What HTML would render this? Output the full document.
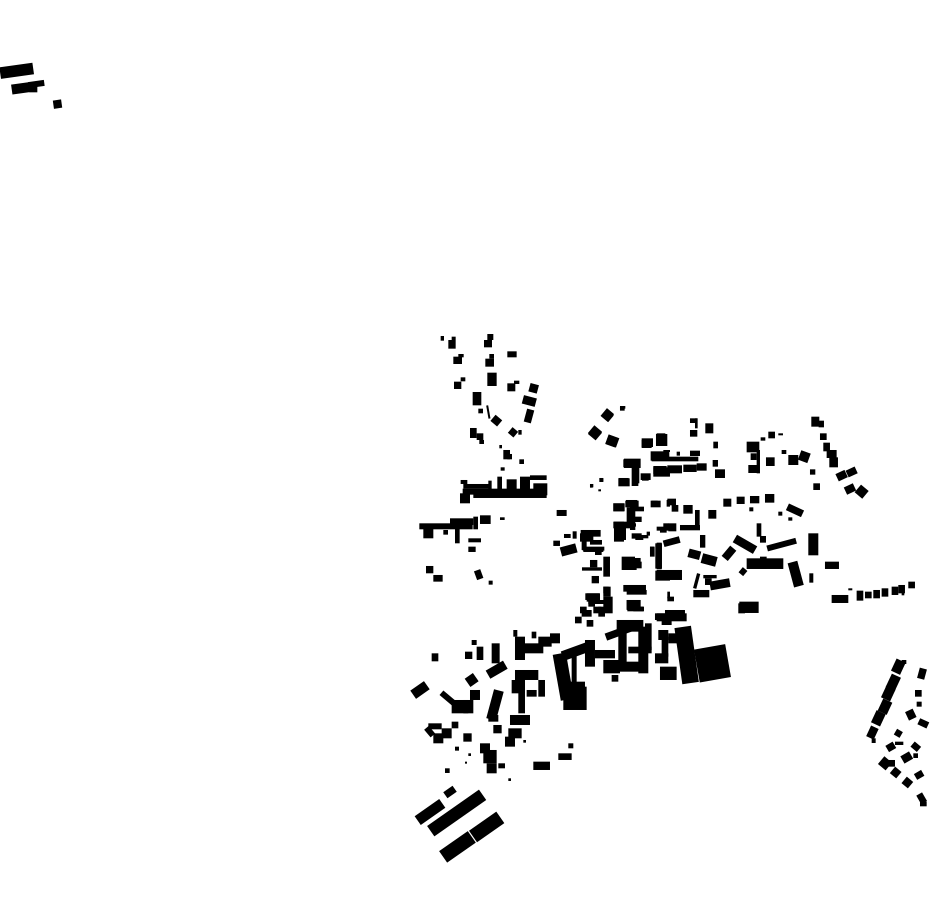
<!DOCTYPE html>
<html><head><meta charset="utf-8"><style>html,body{margin:0;padding:0;background:#fff}svg{display:block}</style></head><body>
<svg width="930" height="924" viewBox="0 0 930 924" xmlns="http://www.w3.org/2000/svg">
<rect width="930" height="924" fill="#fff"/>
<g fill="#000">
<!-- top-left -->
<g transform="translate(0,55) scale(0.3333)">
<rect x="0" y="30" width="100" height="35" transform="rotate(-8 50 47)"/>
<rect x="35" y="85" width="55" height="30" transform="rotate(-8 62 100)"/>
<rect x="85" y="78" width="48" height="18" transform="rotate(-8 109 87)"/>
<rect x="88" y="88" width="24" height="24"/>
<rect x="160" y="135" width="25" height="25" transform="rotate(-8 172 147)"/>
</g>
<!-- zoom1 -->
<g transform="translate(410,330) scale(0.3333)">
<rect x="92" y="18" width="10" height="14"/><rect x="115" y="30" width="22" height="26"/><rect x="125" y="20" width="12" height="10"/>
<rect x="222" y="30" width="24" height="22"/><rect x="232" y="12" width="18" height="18"/>
<rect x="292" y="64" width="28" height="18"/>
<rect x="130" y="80" width="26" height="22"/><rect x="145" y="72" width="16" height="10"/>
<rect x="226" y="86" width="26" height="24"/><rect x="238" y="72" width="14" height="14"/>
<rect x="132" y="155" width="22" height="22"/><rect x="152" y="142" width="14" height="12"/>
<rect x="232" y="128" width="28" height="40"/>
<rect x="292" y="160" width="24" height="24"/><rect x="312" y="152" width="16" height="10"/>
<rect x="358" y="162" width="26" height="26" transform="rotate(15 371 175)"/>
<rect x="338" y="200" width="40" height="26" transform="rotate(15 358 213)"/>
<rect x="346" y="238" width="22" height="40" transform="rotate(15 357 258)"/>
<rect x="188" y="186" width="26" height="40"/>
<rect x="205" y="236" width="14" height="14"/><rect x="232" y="226" width="6" height="40" transform="rotate(-10 235 246)"/>
<rect x="246" y="260" width="26" height="24" transform="rotate(40 259 272)"/>
<rect x="180" y="294" width="20" height="30"/><rect x="200" y="310" width="20" height="20"/><rect x="208" y="330" width="14" height="12"/>
<rect x="298" y="296" width="22" height="22" transform="rotate(40 309 307)"/><rect x="325" y="300" width="10" height="14"/>
<rect x="268" y="345" width="8" height="10"/><rect x="280" y="360" width="20" height="28"/><rect x="292" y="372" width="14" height="16"/>
<rect x="328" y="388" width="14" height="14"/><rect x="272" y="412" width="12" height="10"/>
<rect x="152" y="450" width="20" height="12"/><rect x="158" y="476" width="252" height="18"/><rect x="150" y="490" width="30" height="30"/>
<rect x="160" y="462" width="80" height="14"/><rect x="190" y="490" width="220" height="14"/>
<rect x="235" y="452" width="10" height="40"/><rect x="262" y="440" width="14" height="60"/><rect x="290" y="448" width="30" height="50"/>
<rect x="330" y="440" width="30" height="60"/><rect x="360" y="436" width="50" height="14"/><rect x="370" y="460" width="42" height="36"/>
<rect x="440" y="540" width="30" height="18"/>
<rect x="28" y="580" width="160" height="18"/><rect x="40" y="595" width="30" height="30"/><rect x="120" y="565" width="70" height="20"/>
<rect x="190" y="560" width="14" height="38"/><rect x="210" y="556" width="32" height="26"/><rect x="270" y="562" width="14" height="8"/>
<rect x="100" y="600" width="14" height="14"/><rect x="135" y="590" width="14" height="50"/><rect x="175" y="625" width="38" height="12"/><rect x="175" y="650" width="22" height="16"/>
<rect x="48" y="708" width="22" height="22"/><rect x="70" y="735" width="28" height="20"/>
<rect x="196" y="720" width="20" height="28" transform="rotate(-20 206 734)"/><rect x="236" y="752" width="12" height="12"/>
<rect x="578" y="240" width="28" height="30" transform="rotate(40 592 255)"/><rect x="540" y="292" width="30" height="30" transform="rotate(40 555 307)"/>
<rect x="590" y="318" width="34" height="30" transform="rotate(20 607 333)"/><rect x="630" y="230" width="14" height="12"/>
<rect x="695" y="330" width="30" height="24"/><rect x="738" y="312" width="34" height="36"/><rect x="722" y="364" width="56" height="28"/>
<rect x="642" y="386" width="50" height="28"/><rect x="668" y="400" width="20" height="60"/><rect x="626" y="444" width="30" height="24"/>
<rect x="692" y="430" width="30" height="20"/><rect x="730" y="412" width="50" height="28"/>
<rect x="540" y="462" width="10" height="10"/><rect x="568" y="444" width="12" height="12"/>
<rect x="610" y="520" width="34" height="24"/><rect x="646" y="512" width="40" height="20"/><rect x="660" y="530" width="16" height="70"/>
<rect x="612" y="575" width="30" height="60"/><rect x="638" y="580" width="40" height="10"/><rect x="676" y="620" width="24" height="10"/>
<rect x="722" y="512" width="30" height="20"/><rect x="770" y="510" width="10" height="20"/>
<rect x="760" y="580" width="16" height="20"/><rect x="750" y="596" width="20" height="12"/>
<rect x="430" y="632" width="20" height="16"/><rect x="452" y="646" width="48" height="28" transform="rotate(-15 476 660)"/>
<rect x="462" y="612" width="20" height="12"/><rect x="488" y="604" width="12" height="22"/><rect x="512" y="600" width="60" height="20"/>
<rect x="515" y="620" width="15" height="40"/><rect x="520" y="652" width="60" height="14"/><rect x="540" y="630" width="36" height="14"/>
<rect x="720" y="650" width="14" height="30"/><rect x="736" y="640" width="20" height="76"/><rect x="736" y="722" width="44" height="30"/>
<rect x="636" y="684" width="56" height="30"/><rect x="640" y="710" width="40" height="10"/>
<rect x="516" y="712" width="60" height="10"/><rect x="540" y="690" width="22" height="22"/><rect x="545" y="738" width="22" height="22"/><rect x="580" y="680" width="20" height="60"/>
<rect x="526" y="790" width="42" height="20"/><rect x="580" y="770" width="22" height="30"/><rect x="640" y="765" width="68" height="20"/>
</g>
<!-- zoom2 -->
<g transform="translate(580,400) scale(0.3333)">
<rect x="120" y="18" width="16" height="8"/><rect x="70" y="35" width="26" height="26" transform="rotate(40 83 48)"/>
<rect x="30" y="85" width="30" height="30" transform="rotate(40 45 100)"/><rect x="80" y="108" width="30" height="30" transform="rotate(20 95 123)"/>
<rect x="185" y="115" width="34" height="26"/><rect x="230" y="100" width="26" height="30"/>
<rect x="330" y="55" width="22" height="14"/><rect x="345" y="55" width="8" height="30"/><rect x="330" y="90" width="22" height="20"/><rect x="376" y="70" width="24" height="30"/>
<rect x="400" y="125" width="14" height="20"/>
<rect x="215" y="155" width="16" height="8"/><rect x="250" y="150" width="20" height="6"/><rect x="290" y="155" width="10" height="12"/><rect x="330" y="152" width="30" height="16"/><rect x="215" y="170" width="140" height="14"/>
<rect x="130" y="178" width="50" height="24"/><rect x="155" y="178" width="20" height="80"/><rect x="115" y="235" width="34" height="24"/><rect x="186" y="222" width="20" height="20"/>
<rect x="220" y="198" width="40" height="24"/><rect x="262" y="196" width="44" height="24"/><rect x="310" y="194" width="40" height="22"/><rect x="350" y="190" width="30" height="22"/>
<rect x="398" y="180" width="16" height="20"/><rect x="405" y="208" width="30" height="26"/>
<rect x="500" y="125" width="38" height="32"/><rect x="512" y="160" width="18" height="20"/><rect x="530" y="150" width="10" height="70"/><rect x="505" y="195" width="26" height="24"/>
<rect x="558" y="172" width="26" height="26"/><rect x="565" y="95" width="20" height="20"/><rect x="542" y="112" width="14" height="10"/><rect x="595" y="100" width="14" height="6"/>
<rect x="694" y="50" width="24" height="30"/><rect x="716" y="62" width="16" height="20"/><rect x="720" y="100" width="20" height="20"/><rect x="730" y="128" width="20" height="26"/>
<rect x="740" y="150" width="30" height="24"/><rect x="748" y="172" width="26" height="30"/>
<rect x="605" y="150" width="14" height="12"/><rect x="625" y="165" width="30" height="30"/><rect x="658" y="155" width="30" height="30" transform="rotate(20 673 170)"/>
<rect x="690" y="208" width="16" height="16"/><rect x="700" y="250" width="20" height="20"/>
<rect x="770" y="215" width="30" height="24" transform="rotate(-25 785 227)"/><rect x="800" y="205" width="30" height="22" transform="rotate(-25 815 216)"/>
<rect x="795" y="255" width="30" height="24" transform="rotate(-25 810 267)"/><rect x="830" y="260" width="30" height="30" transform="rotate(40 845 275)"/>
<rect x="30" y="255" width="8" height="8"/><rect x="60" y="235" width="10" height="10"/><rect x="55" y="268" width="8" height="6"/>
<rect x="100" y="310" width="32" height="24"/><rect x="138" y="300" width="34" height="20"/><rect x="140" y="322" width="20" height="60"/><rect x="100" y="365" width="50" height="20"/>
<rect x="118" y="380" width="20" height="40"/><rect x="160" y="320" width="32" height="14"/><rect x="165" y="350" width="20" height="16"/>
<rect x="215" y="302" width="18" height="18"/><rect x="262" y="296" width="26" height="20"/><rect x="275" y="315" width="20" height="20"/><rect x="310" y="315" width="28" height="26"/>
<rect x="345" y="330" width="14" height="50"/><rect x="300" y="375" width="60" height="16"/>
<rect x="155" y="400" width="30" height="16"/><rect x="175" y="405" width="30" height="10"/><rect x="200" y="395" width="10" height="12"/><rect x="230" y="380" width="50" height="12"/><rect x="265" y="370" width="24" height="24"/>
<rect x="385" y="330" width="24" height="26"/><rect x="430" y="296" width="24" height="24"/><rect x="470" y="290" width="24" height="22"/><rect x="510" y="288" width="28" height="22"/><rect x="555" y="282" width="28" height="26"/><rect x="508" y="322" width="12" height="12"/>
<rect x="620" y="320" width="50" height="22" transform="rotate(25 645 331)"/><rect x="595" y="335" width="12" height="12"/><rect x="625" y="352" width="12" height="10"/>
<rect x="0" y="400" width="40" height="25"/><rect x="8" y="440" width="65" height="12"/><rect x="45" y="450" width="20" height="15"/>
<rect x="210" y="440" width="12" height="20"/><rect x="230" y="428" width="15" height="80"/><rect x="250" y="415" width="50" height="20" transform="rotate(-15 275 425)"/>
<rect x="360" y="405" width="16" height="38"/><rect x="325" y="450" width="36" height="26" transform="rotate(15 343 463)"/><rect x="365" y="465" width="45" height="30" transform="rotate(15 387 480)"/>
<rect x="125" y="470" width="40" height="40"/><rect x="140" y="485" width="45" height="20"/><rect x="230" y="510" width="76" height="30"/>
<rect x="435" y="440" width="24" height="40" transform="rotate(40 447 460)"/><rect x="460" y="420" width="70" height="26" transform="rotate(30 495 433)"/>
<rect x="530" y="370" width="14" height="40"/><rect x="540" y="408" width="18" height="20"/><rect x="560" y="425" width="90" height="18" transform="rotate(-15 605 434)"/>
<rect x="500" y="475" width="110" height="32"/><rect x="480" y="505" width="18" height="20" transform="rotate(40 489 515)"/><rect x="540" y="470" width="20" height="36"/>
<rect x="685" y="400" width="30" height="66"/><rect x="632" y="485" width="30" height="75" transform="rotate(-15 647 522)"/><rect x="688" y="520" width="12" height="28"/><rect x="735" y="485" width="42" height="22"/>
<rect x="345" y="520" width="10" height="46" transform="rotate(15 350 543)"/><rect x="340" y="570" width="48" height="22"/><rect x="375" y="535" width="20" height="20"/>
<rect x="390" y="540" width="60" height="26" transform="rotate(-10 420 553)"/><rect x="370" y="525" width="40" height="10"/>
<rect x="478" y="605" width="58" height="34"/>
<rect x="755" y="585" width="50" height="24"/><rect x="805" y="565" width="12" height="6"/><rect x="830" y="572" width="20" height="30"/><rect x="855" y="575" width="20" height="20"/>
<rect x="880" y="570" width="20" height="25"/><rect x="905" y="565" width="20" height="25"/><rect x="935" y="560" width="20" height="25"/><rect x="955" y="555" width="20" height="25"/><rect x="985" y="545" width="20" height="20"/><rect x="965" y="578" width="8" height="8"/>
<rect x="140" y="600" width="42" height="28"/><rect x="142" y="620" width="50" height="14"/><rect x="140" y="570" width="60" height="14"/>
<rect x="20" y="580" width="40" height="25"/><rect x="25" y="600" width="20" height="20"/><rect x="40" y="620" width="24" height="20"/><rect x="70" y="560" width="16" height="20"/><rect x="70" y="590" width="28" height="50"/><rect x="0" y="620" width="20" height="20"/>
<rect x="262" y="590" width="20" height="14"/><rect x="262" y="575" width="8" height="20"/><rect x="230" y="640" width="90" height="24"/><rect x="110" y="660" width="80" height="30"/>
</g>
<!-- zoom3 -->
<g transform="translate(405,600) scale(0.3333)">
<rect x="550" y="0" width="70" height="12"/><rect x="580" y="20" width="20" height="30"/><rect x="545" y="60" width="20" height="20"/><rect x="510" y="50" width="20" height="20"/><rect x="530" y="30" width="30" height="20"/>
<rect x="665" y="0" width="20" height="30"/><rect x="685" y="20" width="30" height="14"/>
<rect x="750" y="40" width="50" height="20"/><rect x="780" y="30" width="60" height="14"/><rect x="770" y="55" width="30" height="20"/>
<rect x="600" y="85" width="90" height="22" transform="rotate(-20 645 96)"/><rect x="640" y="75" width="70" height="20"/><rect x="1000" y="10" width="20" height="30"/>
<rect x="80" y="160" width="20" height="24"/><rect x="180" y="155" width="22" height="22"/><rect x="200" y="120" width="15" height="15"/><rect x="215" y="140" width="20" height="40"/>
<rect x="260" y="130" width="24" height="60"/><rect x="245" y="195" width="60" height="28" transform="rotate(-30 275 209)"/>
<rect x="325" y="90" width="12" height="20"/><rect x="330" y="110" width="30" height="70"/><rect x="355" y="130" width="60" height="30"/><rect x="400" y="110" width="40" height="30"/><rect x="435" y="100" width="30" height="30"/><rect x="380" y="95" width="14" height="20"/>
<rect x="455" y="160" width="40" height="140" transform="rotate(-10 475 230)"/><rect x="470" y="140" width="80" height="30" transform="rotate(-20 510 155)"/>
<rect x="475" y="260" width="70" height="70"/><rect x="540" y="120" width="30" height="80"/><rect x="490" y="245" width="50" height="40"/><rect x="500" y="160" width="15" height="120"/>
<rect x="570" y="150" width="60" height="25"/><rect x="595" y="180" width="50" height="40"/><rect x="605" y="185" width="120" height="30"/>
<rect x="640" y="80" width="25" height="130"/><rect x="700" y="80" width="30" height="140"/><rect x="670" y="140" width="70" height="20"/><rect x="620" y="225" width="20" height="20"/><rect x="720" y="70" width="20" height="80"/>
<rect x="760" y="90" width="30" height="30"/><rect x="770" y="110" width="20" height="60"/><rect x="750" y="160" width="40" height="30"/><rect x="765" y="200" width="50" height="40"/><rect x="790" y="100" width="40" height="30"/>
<rect x="820" y="80" width="50" height="170" transform="rotate(-8 845 165)"/><rect x="875" y="140" width="95" height="100" transform="rotate(-10 922 190)"/>
<rect x="20" y="255" width="50" height="30" transform="rotate(-35 45 270)"/><rect x="185" y="225" width="30" height="30" transform="rotate(-35 200 240)"/>
<rect x="100" y="295" width="80" height="18" transform="rotate(40 140 304)"/><rect x="140" y="300" width="50" height="40"/><rect x="175" y="300" width="30" height="40"/><rect x="195" y="270" width="30" height="30"/>
<rect x="255" y="270" width="30" height="90" transform="rotate(15 270 315)"/><rect x="320" y="240" width="40" height="40"/><rect x="330" y="210" width="70" height="30"/><rect x="365" y="270" width="30" height="20"/><rect x="400" y="240" width="20" height="50"/><rect x="340" y="230" width="20" height="110"/>
<rect x="250" y="345" width="30" height="20"/><rect x="315" y="345" width="60" height="30"/><rect x="265" y="375" width="25" height="25"/><rect x="310" y="385" width="40" height="30"/><rect x="300" y="410" width="30" height="30"/>
<rect x="70" y="370" width="40" height="18"/><rect x="65" y="380" width="18" height="30" transform="rotate(-40 74 395)"/><rect x="85" y="400" width="30" height="30"/><rect x="110" y="385" width="30" height="30"/><rect x="140" y="365" width="20" height="20"/>
<rect x="175" y="400" width="25" height="25"/><rect x="150" y="440" width="12" height="12"/><rect x="190" y="460" width="8" height="8"/><rect x="180" y="485" width="6" height="6"/><rect x="120" y="505" width="14" height="14"/>
<rect x="225" y="430" width="30" height="30"/><rect x="235" y="450" width="40" height="40"/><rect x="245" y="490" width="30" height="30"/><rect x="280" y="490" width="20" height="15"/><rect x="310" y="535" width="8" height="8"/><rect x="355" y="420" width="8" height="8"/>
<rect x="385" y="485" width="50" height="25"/><rect x="460" y="460" width="40" height="20"/><rect x="490" y="430" width="15" height="15"/>
<rect x="118" y="565" width="34" height="22" transform="rotate(-35 135 576)"/>
<rect x="30" y="620" width="90" height="32" transform="rotate(-35 75 636)"/>
<rect x="60" y="620" width="190" height="38" transform="rotate(-35 155 639)"/>
<rect x="195" y="660" width="100" height="42" transform="rotate(-35 245 681)"/>
<rect x="105" y="720" width="105" height="42" transform="rotate(-35 157 741)"/>
</g>
<!-- zoom4 -->
<g transform="translate(850,650) scale(0.3333)">
<rect x="130" y="30" width="30" height="40" transform="rotate(25 145 50)"/><rect x="115" y="75" width="30" height="45" transform="rotate(25 130 97)"/>
<rect x="100" y="110" width="30" height="40" transform="rotate(25 115 130)"/><rect x="90" y="150" width="30" height="40" transform="rotate(25 105 170)"/>
<rect x="70" y="185" width="30" height="40" transform="rotate(25 85 205)"/><rect x="55" y="230" width="25" height="35" transform="rotate(25 67 247)"/>
<rect x="65" y="265" width="12" height="14"/><rect x="155" y="30" width="14" height="12"/>
<rect x="205" y="55" width="22" height="32" transform="rotate(15 216 71)"/><rect x="195" y="120" width="20" height="20"/><rect x="200" y="155" width="15" height="15"/>
<rect x="170" y="180" width="25" height="28" transform="rotate(-25 182 194)"/><rect x="205" y="210" width="30" height="20" transform="rotate(25 220 220)"/>
<rect x="135" y="240" width="20" height="20" transform="rotate(30 145 250)"/><rect x="110" y="280" width="25" height="22" transform="rotate(-30 122 291)"/><rect x="135" y="275" width="25" height="10"/>
<rect x="185" y="280" width="25" height="20" transform="rotate(40 197 290)"/><rect x="190" y="310" width="14" height="14"/><rect x="155" y="310" width="30" height="25" transform="rotate(-30 170 322)"/>
<rect x="90" y="325" width="30" height="30" transform="rotate(40 105 340)"/><rect x="115" y="330" width="20" height="20"/><rect x="125" y="355" width="25" height="25" transform="rotate(40 137 367)"/>
<rect x="195" y="365" width="25" height="20" transform="rotate(-30 207 375)"/><rect x="160" y="385" width="25" height="25" transform="rotate(40 172 397)"/>
<rect x="205" y="430" width="20" height="30" transform="rotate(-30 215 445)"/><rect x="210" y="455" width="20" height="14"/>
</g>
</g>
</svg>
</body></html>
